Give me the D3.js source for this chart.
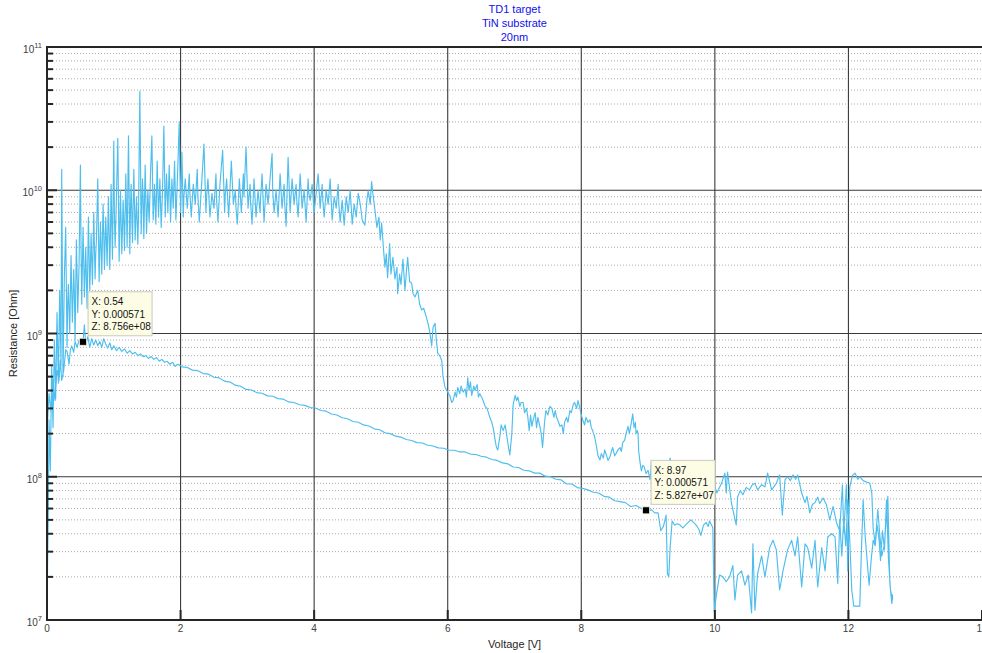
<!DOCTYPE html>
<html>
<head>
<meta charset="utf-8">
<script src="https://cdn.jsdelivr.net/npm/d3@7"></script>
<style>
  body { margin: 0; background: #fff; }
  svg { display: block; }
  text { font-family: "Liberation Sans", Arial, Helvetica, sans-serif; }
</style>
</head>
<body>
<svg id="chart" width="982" height="653"></svg>
<script>
// ---- Chart text ----
const titleLines = ["TD1 target", "TiN substrate", "20nm"];
const xLabel = "Voltage [V]";
const yLabel = "Resistance [Ohm]";

// ---- Axis ticks ----
const xTicks = [0, 2, 4, 6, 8, 10, 12, 14];
const yDecadeExponents = [7, 8, 9, 10, 11];

// ---- Measured sweep: [voltage (V), resistance (Ohm)] ----
// Up-sweep 0 V -> 12.66 V (high-resistance state, then switching)
const sweepUp = [
  [0.00,1.2e7],[0.02,6e7],[0.03,2.5e8],[0.05,1.1e8],[0.07,6e8],[0.09,2.2e8],[0.11,9e8],[0.13,3.5e8],
  [0.15,1.4e9],[0.17,4.5e8],[0.19,2.0e9],[0.21,6e8],[0.22,1.4e10],[0.24,5e8],[0.26,2.5e9],[0.28,5.5e9],
  [0.30,8e8],[0.31,1.6e9],[0.32,2.2e9],[0.34,1.0e9],[0.36,3.5e9],[0.37,2.0e9],[0.38,1.2e9],[0.40,2.8e9],
  [0.41,1.9e9],[0.42,9e8],[0.44,4.5e9],[0.45,2.6e9],[0.46,1.4e9],[0.48,3.0e9],[0.50,1.5e10],[0.51,4.0e9],
  [0.52,1.6e9],[0.54,5.5e9],[0.55,3.2e9],[0.56,1.8e9],[0.58,4.0e9],[0.60,1.5e9],[0.61,3.0e9],[0.62,6.5e9],
  [0.64,2.0e9],[0.65,2.9e9],[0.66,5.0e9],[0.68,2.2e9],[0.70,7.0e9],[0.71,4.0e9],[0.72,2.4e9],[0.73,3.6e9],
  [0.74,4.5e9],[0.76,1.2e10],[0.78,2.3e9],[0.79,3.8e9],[0.80,6.0e9],[0.82,2.6e9],[0.84,8.0e9],[0.85,5.0e9],
  [0.86,2.8e9],[0.88,6.5e9],[0.89,4.5e9],[0.90,3.0e9],[0.92,9.0e9],[0.94,2.8e9],[0.95,5.0e9],[0.96,1.1e10],
  [0.98,3.3e9],[1.00,2.2e10],[1.01,6.5e9],[1.02,4.0e9],[1.04,9.0e9],[1.06,2.3e10],[1.08,3.2e9],[1.09,5.5e9],
  [1.10,1.0e10],[1.12,3.6e9],[1.14,8.5e9],[1.15,6.0e9],[1.16,3.8e9],[1.18,1.3e10],[1.19,7.0e9],[1.20,4.0e9],
  [1.22,2.4e10],[1.24,3.6e9],[1.25,7.5e9],[1.26,1.1e10],[1.28,4.3e9],[1.30,1.4e10],[1.31,8.0e9],[1.32,4.5e9],
  [1.34,9e9],[1.36,4.2e9],[1.37,6.5e9],[1.39,4.9e10],[1.41,5.0e9],[1.43,1.2e10],[1.44,8.5e9],[1.45,4.6e9],
  [1.47,1.5e10],[1.49,5.0e9],[1.50,7.0e9],[1.51,1.0e10],[1.53,6.0e9],[1.55,1.3e10],[1.57,2.4e10],[1.59,6.2e9],
  [1.60,8.0e9],[1.61,1.1e10],[1.63,5.8e9],[1.65,1.6e10],[1.66,1.0e10],[1.67,6.5e9],[1.69,1.2e10],[1.71,5.5e9],
  [1.72,7.5e9],[1.73,1.0e10],[1.75,2.8e10],[1.77,6.5e9],[1.79,1.3e10],[1.80,9.5e9],[1.81,7.0e9],[1.83,1.5e10],
  [1.85,6.0e9],[1.86,8.5e9],[1.87,1.2e10],[1.89,7.5e9],[1.91,1.6e10],[1.92,1.0e10],[1.93,6.2e9],[1.95,1.1e10],
  [1.98,3.0e10],[2.00,7.0e9],[2.02,1.85e10],[2.04,6.5e9],[2.05,9.0e9],[2.07,1.2e10],[2.10,7.5e9],[2.13,1.3e10],
  [2.14,9.5e9],[2.16,6.5e9],[2.19,1.1e10],[2.22,8.0e9],[2.25,1.4e10],[2.26,9.0e9],[2.28,6.0e9],[2.31,1.0e10],
  [2.35,2.1e10],[2.38,7.0e9],[2.39,9.0e9],[2.41,1.2e10],[2.44,6.5e9],[2.47,9.5e9],[2.50,7.5e9],[2.53,1.3e10],
  [2.54,8.5e9],[2.56,6.0e9],[2.59,1.1e10],[2.63,1.9e10],[2.66,7.0e9],[2.67,9.5e9],[2.69,1.2e10],[2.72,6.5e9],
  [2.76,1.6e10],[2.79,8.0e9],[2.82,1.0e10],[2.83,7.5e9],[2.85,5.8e9],[2.88,1.2e10],[2.91,7.0e9],[2.94,1.3e10],
  [2.95,9.0e9],[2.98,2.0e10],[3.01,7.5e9],[3.04,1.1e10],[3.05,8.0e9],[3.07,5.8e9],[3.10,1.2e10],[3.13,6.5e9],
  [3.16,1.0e10],[3.19,7.0e9],[3.20,9.0e9],[3.22,1.3e10],[3.25,6.0e9],[3.28,1.1e10],[3.31,8.0e9],[3.34,1.2e10],
  [3.37,1.8e10],[3.38,1.0e10],[3.40,7.0e9],[3.43,1.0e10],[3.46,6.5e9],[3.49,1.3e10],[3.52,7.5e9],[3.55,1.1e10],
  [3.56,8.0e9],[3.58,5.6e9],[3.61,1.7e10],[3.64,7.0e9],[3.67,1.2e10],[3.70,8.0e9],[3.73,1.1e10],[3.74,8.5e9],
  [3.76,6.5e9],[3.79,1.3e10],[3.82,7.5e9],[3.85,1.0e10],[3.88,6.0e9],[3.91,1.2e10],[3.92,9.5e9],[3.94,8.5e9],
  [3.97,1.1e10],[4.00,7.0e9],[4.03,9.5e9],[4.06,1.3e10],[4.09,7.5e9],[4.12,1.1e10],[4.13,8.5e9],[4.15,6.5e9],
  [4.18,1.0e10],[4.21,8.0e9],[4.24,1.2e10],[4.27,6.2e9],[4.30,9.0e9],[4.33,7.5e9],[4.36,1.1e10],[4.37,8.0e9],
  [4.39,6.0e9],[4.42,8.5e9],[4.45,5.7e9],[4.48,9.0e9],[4.51,7.0e9],[4.54,1.0e10],[4.57,5.8e9],[4.60,8.0e9],
  [4.63,6.5e9],[4.66,9.5e9],[4.69,8.0e9],[4.72,6.2e9],[4.76,5.7e9],
  [4.79,8.5e9],[4.81,1.0e10],[4.84,8.0e9],[4.86,1.15e10],[4.88,9.5e9],[4.91,7.3e9],[4.94,5.5e9],[4.97,6.5e9],
  [4.99,4.5e9],[5.01,5.9e9],[5.04,3.8e9],[5.06,2.9e9],[5.08,3.6e9],[5.10,2.45e9],[5.13,4.25e9],[5.15,2.6e9],
  [5.18,3.4e9],[5.21,2.4e9],[5.24,2.9e9],[5.25,1.9e9],[5.28,2.6e9],[5.30,2.2e9],[5.33,3.3e9],[5.36,2.0e9],
  [5.38,2.65e9],[5.40,3.4e9],[5.43,2.3e9],[5.46,2.25e9],[5.48,1.9e9],[5.51,1.8e9],[5.55,2.0e9],[5.58,1.6e9],
  [5.61,1.46e9],[5.64,1.5e9],[5.68,1.3e9],[5.71,1.15e9],[5.73,1.03e9],[5.76,8.2e8],[5.78,1.1e9],[5.81,1.18e9],
  [5.83,9e8],[5.85,7.3e8],[5.88,7.0e8],[5.91,6.5e8],[5.93,5.0e8],[5.96,4.2e8],[6.00,3.9e8],[6.03,3.7e8],
  [6.06,3.3e8],[6.08,3.4e8],[6.11,3.9e8],[6.13,3.6e8],[6.15,4.2e8],[6.18,3.8e8],[6.20,4.3e8],[6.23,3.9e8],
  [6.26,4.1e8],[6.28,3.6e8],[6.30,4.9e8],[6.32,4.0e8],[6.34,4.6e8],[6.36,3.7e8],[6.39,4.3e8],[6.41,4.0e8],
  [6.44,4.4e8],[6.46,3.6e8],[6.48,3.8e8],[6.52,3.5e8],[6.56,3.1e8],[6.59,3.0e8],[6.63,2.6e8],[6.66,2.4e8],
  [6.68,2.2e8],[6.71,1.8e8],[6.73,1.6e8],[6.75,1.54e8],[6.78,1.9e8],[6.80,2.3e8],[6.83,2.1e8],[6.86,2.3e8],
  [6.88,2.0e8],[6.91,1.6e8],[6.93,1.42e8],[6.96,2.0e8],[6.98,3.2e8],[7.01,3.7e8],[7.03,3.4e8],[7.05,3.6e8],
  [7.08,3.1e8],[7.10,3.3e8],[7.13,3.3e8],[7.15,2.8e8],[7.18,3.0e8],[7.20,2.6e8],[7.22,2.1e8],[7.24,2.7e8],
  [7.26,2.25e8],[7.28,2.5e8],[7.31,2.8e8],[7.33,2.2e8],[7.35,2.6e8],[7.38,2.25e8],[7.40,2.0e8],[7.42,1.6e8],
  [7.45,2.4e8],[7.47,2.9e8],[7.50,2.7e8],[7.53,3.1e8],[7.56,3.0e8],[7.59,2.6e8],[7.61,2.9e8],[7.63,2.6e8],
  [7.66,2.4e8],[7.68,2.25e8],[7.71,2.3e8],[7.73,2.0e8],[7.75,2.4e8],[7.78,2.6e8],[7.80,2.4e8],[7.83,2.9e8],
  [7.85,2.8e8],[7.88,3.2e8],[7.90,3.3e8],[7.93,3.0e8],[7.95,3.4e8],[7.98,3.0e8],[8.00,2.7e8],[8.02,2.5e8],
  [8.05,2.3e8],[8.07,2.6e8],[8.10,2.4e8],[8.13,2.5e8],[8.15,2.2e8],[8.17,2.1e8],[8.20,1.9e8],[8.23,1.6e8],
  [8.25,1.4e8],[8.28,1.31e8],[8.30,1.45e8],[8.33,1.35e8],[8.35,1.54e8],[8.38,1.4e8],[8.40,1.3e8],[8.43,1.38e8],
  [8.45,1.5e8],[8.47,1.6e8],[8.50,1.4e8],[8.52,1.45e8],[8.55,1.54e8],[8.58,1.6e8],[8.60,1.5e8],[8.62,1.73e8],
  [8.65,1.8e8],[8.67,2.0e8],[8.70,2.25e8],[8.72,2.0e8],[8.75,2.4e8],[8.77,2.75e8],[8.79,2.2e8],[8.81,2.4e8],
  [8.82,2.0e8],[8.84,2.1e8],[8.85,2.0e8],[8.86,1.5e8],[8.88,1.26e8],[8.90,1.1e8],[8.92,1.2e8],[8.94,1.18e8],
  [8.97,1.05e8],[9.00,1.11e8],[9.03,9.5e7],[9.05,1.29e8],[9.10,1.05e8],[9.16,9.6e7],[9.22,1.12e8],[9.28,1.0e8],
  [9.33,1.35e8],[9.38,1.05e8],[9.45,9.0e7],[9.52,1.1e8],[9.58,9.5e7],[9.65,1.05e8],[9.72,8.8e7],[9.80,1.0e8],
  [9.87,9.0e7],[9.94,1.0e8],[10.00,8.5e7],[10.03,7.7e7],[10.10,9.0e7],[10.15,1.06e8],[10.17,7.7e7],[10.19,1.08e8],
  [10.25,6.5e7],[10.32,4.6e7],[10.34,7.2e7],[10.38,8.0e7],[10.42,7.5e7],[10.47,8.4e7],[10.52,8.1e7],[10.56,8.8e7],
  [10.60,9.0e7],[10.64,8.1e7],[10.70,8.8e7],[10.75,8.5e7],[10.79,1.06e8],[10.85,8.1e7],[10.92,9.0e7],[10.97,1.03e8],
  [11.01,5.4e7],[11.05,9.5e7],[11.09,1.0e8],[11.13,9.4e7],[11.17,1.03e8],[11.21,9.6e7],[11.24,1.03e8],[11.30,7.7e7],
  [11.35,6.6e7],[11.38,7.3e7],[11.42,5.6e7],[11.46,6.4e7],[11.50,6.6e7],[11.54,7.2e7],[11.57,6.5e7],[11.62,7.1e7],
  [11.67,6.4e7],[11.72,5.0e7],[11.77,6.2e7],[11.82,4.8e7],[11.87,4.2e7],[11.91,8.8e7],[11.93,4.1e7],[11.97,8.8e7],
  [11.99,2.2e7],[12.02,8.5e7],[12.06,1.02e8],[12.10,1.06e8],[12.14,9.6e7],[12.17,1.0e8],[12.22,9.4e7],[12.27,9.2e7],
  [12.32,9.0e7],[12.35,7.7e7],[12.37,4.4e7],[12.40,3.4e7],[12.44,5.9e7],[12.47,3.9e7],[12.50,2.8e7],[12.54,3.4e7],
  [12.59,7.3e7],[12.62,1.8e7],[12.65,1.3e7],[12.66,1.5e7]
];

// Down-sweep 12.66 V -> 0 V (low-resistance state, relaxing back)
const sweepDown = [
  [12.66,1.38e7],[12.63,1.62e7],[12.60,2.6e7],[12.57,6.9e7],[12.54,3.1e7],[12.51,4.2e7],[12.48,2.6e7],[12.46,3.6e7],
  [12.43,4.6e7],[12.40,3.3e7],[12.37,3.6e7],[12.34,2.6e7],[12.31,1.75e7],[12.28,2.6e7],[12.25,3.9e7],[12.22,6.9e7],
  [12.19,2.6e7],[12.17,1.25e7],[12.13,1.25e7],[12.08,1.25e7],[12.05,1.62e7],[12.02,3.6e7],[11.99,6.9e7],[11.96,3.3e7],
  [11.93,5.0e7],[11.90,2.8e7],[11.87,5.0e7],[11.84,1.8e7],[11.80,3.8e7],[11.75,4.0e7],[11.69,3.8e7],[11.65,2.2e7],
  [11.60,3.2e7],[11.54,1.7e7],[11.50,3.6e7],[11.45,2.3e7],[11.39,3.2e7],[11.35,3.4e7],[11.30,1.7e7],[11.24,3.8e7],
  [11.20,2.8e7],[11.15,3.6e7],[11.09,3.1e7],[11.02,2.2e7],[10.97,1.62e7],[10.92,3.1e7],[10.87,3.6e7],[10.82,3.2e7],
  [10.75,2.0e7],[10.70,2.8e7],[10.64,2.1e7],[10.60,1.17e7],[10.57,3.4e7],[10.55,1.12e7],[10.50,2.06e7],[10.45,1.75e7],
  [10.40,2.2e7],[10.34,2.06e7],[10.30,1.38e7],[10.27,2.4e7],[10.22,2.0e7],[10.17,1.85e7],[10.12,2.0e7],[10.07,2.06e7],
  [10.03,1.57e7],[10.00,1.25e7],[9.99,1.15e7],[9.97,4.4e7],[9.95,4.6e7],[9.92,4.9e7],[9.90,4.5e7],[9.87,4.8e7],
  [9.83,4.6e7],[9.79,3.9e7],[9.76,4.3e7],[9.72,4.6e7],[9.68,4.8e7],[9.64,5.0e7],[9.60,4.8e7],[9.56,4.6e7],
  [9.52,4.4e7],[9.48,4.6e7],[9.44,4.7e7],[9.40,4.6e7],[9.36,4.9e7],[9.33,3.2e7],[9.31,2.0e7],[9.29,2.1e7],
  [9.27,5.4e7],[9.23,4.5e7],[9.19,4.2e7],[9.15,5.6e7],[9.10,5.6e7],[9.05,5.9e7],[9.00,5.7e7],[8.97,5.827e7],
  [8.90,6.0e7],[8.82,6.3e7],[8.74,6.2e7],[8.66,6.6e7],[8.58,6.7e7],[8.50,6.8e7],[8.42,7.2e7],[8.34,7.3e7],
  [8.26,7.7e7],[8.18,7.8e7],[8.10,8.1e7],[8.02,8.3e7],[7.94,8.4e7],[7.86,8.9e7],[7.78,8.9e7],[7.70,9.5e7],
  [7.62,9.6e7],[7.54,1.0e8],[7.46,1.01e8],[7.38,1.06e8],[7.30,1.06e8],[7.22,1.1e8],[7.14,1.11e8],[7.06,1.16e8],
  [6.98,1.17e8],[6.90,1.23e8],[6.82,1.25e8],[6.74,1.3e8],[6.66,1.32e8],[6.58,1.37e8],[6.50,1.39e8],[6.42,1.43e8],
  [6.34,1.44e8],[6.26,1.49e8],[6.18,1.49e8],[6.10,1.53e8],[6.02,1.53e8],[5.94,1.58e8],[5.86,1.59e8],[5.78,1.64e8],
  [5.70,1.66e8],[5.62,1.72e8],[5.54,1.73e8],[5.46,1.79e8],[5.38,1.82e8],[5.30,1.89e8],[5.22,1.92e8],[5.14,2.0e8],
  [5.06,2.03e8],[4.98,2.13e8],[4.90,2.16e8],[4.82,2.26e8],[4.74,2.3e8],[4.66,2.4e8],[4.58,2.43e8],[4.50,2.54e8],
  [4.42,2.58e8],[4.34,2.7e8],[4.26,2.74e8],[4.18,2.87e8],[4.10,2.9e8],[4.02,3.02e8],[3.94,3.04e8],[3.86,3.15e8],
  [3.78,3.18e8],[3.70,3.3e8],[3.62,3.33e8],[3.54,3.48e8],[3.46,3.51e8],[3.38,3.65e8],[3.30,3.67e8],[3.22,3.83e8],
  [3.14,3.87e8],[3.06,4.03e8],[2.98,4.07e8],[2.90,4.28e8],[2.82,4.36e8],[2.74,4.58e8],[2.66,4.65e8],[2.58,4.9e8],
  [2.50,4.95e8],[2.42,5.2e8],[2.34,5.25e8],[2.26,5.5e8],[2.18,5.55e8],[2.10,5.8e8],[2.02,5.85e8],[1.96,6.1e8],
  [1.92,5.9e8],[1.88,6.3e8],[1.84,6.1e8],[1.80,6.4e8],[1.76,6.3e8],[1.72,6.6e8],[1.68,6.4e8],[1.64,6.8e8],
  [1.60,6.6e8],[1.56,6.9e8],[1.52,6.7e8],[1.48,7.0e8],[1.44,6.9e8],[1.40,7.2e8],[1.36,7.0e8],[1.32,7.4e8],
  [1.28,7.2e8],[1.24,7.6e8],[1.20,7.3e8],[1.16,7.8e8],[1.12,7.5e8],[1.08,8.0e8],[1.04,7.6e8],[1.00,8.2e8],
  [0.97,7.7e8],[0.94,8.6e8],[0.91,7.9e8],[0.88,8.4e8],[0.85,9.2e8],[0.82,8.0e8],[0.79,8.8e8],[0.76,8.2e8],
  [0.73,9.0e8],[0.70,8.3e8],[0.67,9.2e8],[0.64,8.0e8],[0.61,9.5e8],[0.58,8.3e8],[0.56,1.15e9],[0.54,8.756e8],
  [0.51,8.4e8],[0.48,9.0e8],[0.45,8.0e8],[0.42,8.8e8],[0.40,7.4e8],[0.37,8.2e8],[0.35,7.7e8],[0.33,6.1e8],
  [0.30,7.5e8],[0.28,7.7e8],[0.25,5.5e8],[0.22,4.7e8],[0.20,6.5e8],[0.18,4.7e8],[0.15,5.5e8],[0.12,3.4e8],
  [0.09,4.8e8],[0.06,2.8e8],[0.03,3.8e8],[0.01,2.5e8]
];

// ---- Data tips (X = voltage, Y = current, Z = resistance) ----
const tipX = [0.54, 8.97];
const tipY = [0.000571, 0.000571];
const tipZ = [8.756e8, 5.827e7];

// ---- Layout ----
const plot = { left: 47, right: 982, top: 47, bottom: 620 };
const axisColor = "#262626";
const tickTextColor = "#404040";
const lineColor = "#4DBEEE";

const svg = d3.select("#chart");

const x = d3.scaleLinear().domain([0, 14]).range([plot.left, plot.right]);
const y = d3.scaleLog().domain([1e7, 1e11]).range([plot.bottom, plot.top]);

// Minor (dotted) horizontal grid at 2..9 x 10^n
const minorVals = [];
yDecadeExponents.slice(0, -1).forEach(e => {
  for (let m = 2; m <= 9; m++) minorVals.push(m * Math.pow(10, e));
});
const majorVals = yDecadeExponents.map(e => Math.pow(10, e));

const grid = svg.append("g");
grid.selectAll("line.minor").data(minorVals).join("line")
  .attr("x1", plot.left).attr("x2", plot.right)
  .attr("y1", d => y(d)).attr("y2", d => y(d))
  .attr("stroke", "#a8a8a8").attr("stroke-width", 1)
  .attr("stroke-dasharray", "1,2");
grid.selectAll("line.majorY").data(majorVals.slice(1, -1)).join("line")
  .attr("x1", plot.left).attr("x2", plot.right)
  .attr("y1", d => y(d)).attr("y2", d => y(d))
  .attr("stroke", "#3a3a3a").attr("stroke-width", 1.1);
grid.selectAll("line.majorX").data(xTicks.slice(1, -1)).join("line")
  .attr("x1", d => x(d)).attr("x2", d => x(d))
  .attr("y1", plot.top).attr("y2", plot.bottom)
  .attr("stroke", "#3a3a3a").attr("stroke-width", 1.1);

// Data trace
svg.append("clipPath").attr("id", "plotClip").append("rect")
  .attr("x", plot.left).attr("y", plot.top)
  .attr("width", plot.right - plot.left).attr("height", plot.bottom - plot.top);

const line = d3.line().x(d => x(d[0])).y(d => y(d[1]));
svg.append("path")
  .datum(sweepUp.concat(sweepDown))
  .attr("clip-path", "url(#plotClip)")
  .attr("fill", "none")
  .attr("stroke", lineColor)
  .attr("stroke-width", 1.15)
  .attr("stroke-linejoin", "round")
  .attr("d", line);

// Axes box
const axes = svg.append("g");
axes.append("line").attr("x1", plot.left).attr("x2", plot.left)
  .attr("y1", plot.top - 1).attr("y2", plot.bottom + 1)
  .attr("stroke", axisColor).attr("stroke-width", 2);
axes.append("line").attr("x1", plot.left - 1).attr("x2", plot.right)
  .attr("y1", plot.bottom).attr("y2", plot.bottom)
  .attr("stroke", axisColor).attr("stroke-width", 2);
axes.append("line").attr("x1", plot.left - 1).attr("x2", plot.right)
  .attr("y1", plot.top).attr("y2", plot.top)
  .attr("stroke", axisColor).attr("stroke-width", 2);

// Ticks
axes.selectAll("line.xt").data(xTicks).join("line")
  .attr("x1", d => x(d)).attr("x2", d => x(d))
  .attr("y1", plot.bottom).attr("y2", plot.bottom - 10)
  .attr("stroke", axisColor).attr("stroke-width", 2);
axes.selectAll("line.ymin").data(minorVals).join("line")
  .attr("x1", plot.left).attr("x2", plot.left + 6)
  .attr("y1", d => y(d)).attr("y2", d => y(d))
  .attr("stroke", axisColor).attr("stroke-width", 2);
axes.selectAll("line.ymaj").data(majorVals).join("line")
  .attr("x1", plot.left).attr("x2", plot.left + 10)
  .attr("y1", d => y(d)).attr("y2", d => y(d))
  .attr("stroke", axisColor).attr("stroke-width", 2);

// Tick labels (the last one sits on the figure's right edge)
axes.selectAll("text.xl").data(xTicks).join("text")
  .attr("x", d => x(d)).attr("y", plot.bottom + 12)
  .attr("text-anchor", "middle").attr("font-size", 10)
  .attr("fill", tickTextColor).text(d => d);

const yl = axes.selectAll("text.yl").data(yDecadeExponents).join("text")
  .attr("x", 42).attr("y", d => y(Math.pow(10, d)) + 6)
  .attr("text-anchor", "end").attr("font-size", 10)
  .attr("fill", tickTextColor);
yl.append("tspan").text("10");
yl.append("tspan").attr("dy", -5).attr("font-size", 7.5).text(d => d);

// Axis labels
svg.append("text").attr("x", (plot.left + plot.right) / 2).attr("y", 648)
  .attr("text-anchor", "middle").attr("font-size", 11).attr("fill", axisColor)
  .text(xLabel);
svg.append("text")
  .attr("transform", `translate(17,${(plot.top + plot.bottom) / 2}) rotate(-90)`)
  .attr("text-anchor", "middle").attr("font-size", 11).attr("fill", axisColor)
  .text(yLabel);

// Title
svg.append("g").selectAll("text").data(titleLines).join("text")
  .attr("x", (plot.left + plot.right) / 2)
  .attr("y", (d, i) => 13 + i * 14.2)
  .attr("text-anchor", "middle").attr("font-size", 11)
  .attr("fill", "#1010f0").text(d => d);

// Data tips
function expFmt(v) {
  const [m, e] = v.toExponential(3).split("e");
  const sign = e[0] === "-" ? "-" : "+";
  const digits = e.replace(/[+-]/, "").padStart(2, "0");
  return `${m}e${sign}${digits}`;
}
const tips = tipX.map((v, i) => ({ x: v, y: tipY[i], z: tipZ[i] }));
const tipG = svg.append("g").selectAll("g").data(tips).join("g")
  .attr("transform", d => `translate(${x(d.x)},${y(d.z)})`);
tipG.append("rect")
  .attr("x", 5).attr("y", -50).attr("width", 64).attr("height", 44)
  .attr("fill", "#fdfde6").attr("stroke", "#c9c9c0").attr("stroke-width", 1);
tipG.each(function (d) {
  const g = d3.select(this);
  const rows = [`X: ${d.x}`, `Y: ${d.y}`, `Z: ${expFmt(d.z)}`];
  g.selectAll("text").data(rows).join("text")
    .attr("x", 8.5).attr("y", (r, i) => -36.5 + i * 12.5)
    .attr("font-size", 10).attr("fill", "#111").text(r => r);
});
tipG.append("rect")
  .attr("x", -3.5).attr("y", -3.5).attr("width", 7).attr("height", 7)
  .attr("fill", "#000").attr("stroke", "#f4f4dc").attr("stroke-width", 0.8);
</script>
</body>
</html>
